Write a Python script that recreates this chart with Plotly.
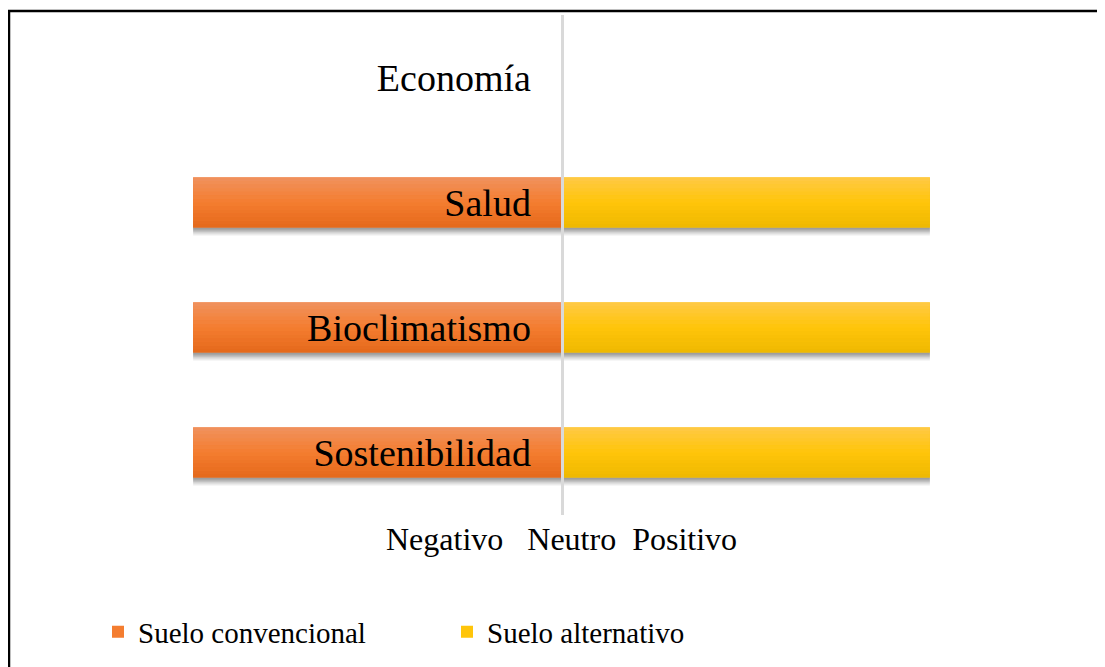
import plotly.graph_objects as go

categories = ["Sostenibilidad", "Bioclimatismo", "Salud", "Economía"]
suelo_convencional = [-1, -1, -1, 0]
suelo_alternativo = [1, 1, 1, 0]
x_tick_label = "Negativo\u00a0\u00a0\u00a0Neutro\u00a0\u00a0Positivo"

FONT = "Liberation Serif, Times New Roman, serif"
BAR_W = 0.4
N_BANDS = 14

# gradient stops (top, middle, bottom)
ORANGE = [(240, 146, 94), (244, 125, 48), (228, 104, 26)]
YELLOW = [(255, 201, 70), (255, 197, 10), (238, 184, 0)]


def grad(stops, t):
    # t = 0 at bottom, 1 at top
    top, mid, bot = stops
    if t < 0.5:
        a, b, u = bot, mid, t / 0.5
    else:
        a, b, u = mid, top, (t - 0.5) / 0.5
    c = [round(a[i] + (b[i] - a[i]) * u) for i in range(3)]
    return "rgb(%d,%d,%d)" % tuple(c)


fig = go.Figure()

# soft shadows
SHADOW = [(0.066, 0.05), (0.056, 0.06), (0.046, 0.07), (0.036, 0.08), (0.026, 0.09), (0.016, 0.1)]
for vals in (suelo_convencional, suelo_alternativo):
    for dy, alpha in SHADOW:
        fig.add_trace(go.Bar(
            y=categories, x=vals, orientation="h", width=BAR_W,
            offset=-BAR_W / 2 - dy, showlegend=False, hoverinfo="skip",
            marker=dict(color="rgba(0,0,0,%.2f)" % alpha, line=dict(width=0)),
        ))

for name, vals, stops in (("Suelo convencional", suelo_convencional, ORANGE),
                          ("Suelo alternativo", suelo_alternativo, YELLOW)):
    fig.add_trace(go.Bar(
        y=categories, x=vals, orientation="h", name=name, width=BAR_W,
        marker=dict(color=grad(stops, 0.5), line=dict(width=0)),
    ))
    bw = BAR_W / N_BANDS
    for i in range(N_BANDS):
        t = (i + 0.5) / N_BANDS
        fig.add_trace(go.Bar(
            y=categories, x=vals, orientation="h", width=bw * 1.05,
            offset=-BAR_W / 2 + i * bw, showlegend=False, hoverinfo="skip",
            marker=dict(color=grad(stops, t), line=dict(width=0)),
        ))

W, H = 1105, 667
L, R, T, B = 93, 91, 7, 160
pw, ph = W - L - R, H - T - B


def px_x(p):
    return (p - L) / pw


def px_y(p):
    return (H - B - p) / ph


fig.update_layout(
    width=W, height=H,
    margin=dict(l=L, r=R, t=T, b=B),
    barmode="overlay",
    plot_bgcolor="white", paper_bgcolor="white",
    font=dict(family=FONT, color="black"),
    showlegend=True,
    legend=dict(
        orientation="h", x=px_x(90), xanchor="left", y=px_y(624), yanchor="middle",
        font=dict(family=FONT, size=29, color="black"),
        entrywidth=304, itemwidth=30, traceorder="normal",
    ),
    xaxis=dict(
        range=[-1.25, 1.25], showgrid=False, zeroline=False, showline=False,
        tickvals=[0], ticktext=[x_tick_label], ticks="",
        tickfont=dict(family=FONT, size=32, color="black"),
        ticklabelstandoff=2,
    ),
    yaxis=dict(
        anchor="free", position=0.5, showgrid=False, zeroline=False,
        showline=True, linecolor="#D9D9D9", linewidth=3,
        ticks="", tickfont=dict(family=FONT, size=38, color="black"),
        ticklabelstandoff=22,
        categoryorder="array", categoryarray=categories,
    ),
    shapes=[dict(
        type="rect", xref="paper", yref="paper",
        x0=px_x(1), x1=px_x(1110), y0=px_y(675), y1=px_y(3),
        line=dict(color="black", width=2.5), layer="below",
    )],
)

fig.write_html("out.html")
